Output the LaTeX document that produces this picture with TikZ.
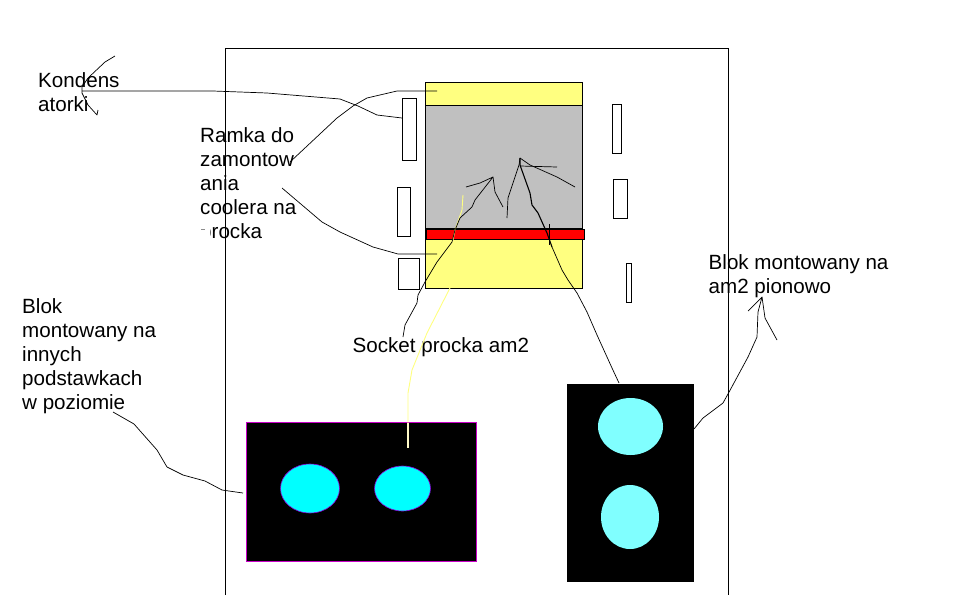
\documentclass[tikz,border=0pt]{standalone}
\usepackage{fontspec}
\setmainfont{Liberation Sans}
\definecolor{softyellow}{RGB}{255,255,128}
\definecolor{paleline}{RGB}{255,250,200}
\definecolor{panelgray}{RGB}{192,192,192}
\definecolor{cyanA}{RGB}{0,255,255}
\definecolor{cyanB}{RGB}{128,255,255}
\definecolor{edgepurple}{RGB}{200,0,200}
\begin{document}
\begin{tikzpicture}[x=1pt,y=-1pt,
  box/.style={draw=black,line width=0.8pt,fill=white},
  sketch/.style={draw=black,line width=0.7pt,line join=round},
  yellowsketch/.style={draw=softyellow,line width=0.9pt,line join=round},
  label/.style={anchor=north west,align=left,font=\fontsize{20.6}{24}\selectfont,inner sep=0pt}]
\useasboundingbox (0,0) rectangle (962,595);
\fill[white] (0,0) rectangle (962,595);
% socket assembly
\draw[box,fill=softyellow] (425.5,82.5) rectangle (582.5,288.5);
\draw[box,fill=panelgray] (425.5,105.5) rectangle (582.5,228.5);
\draw[box,fill=red] (426,229.5) rectangle (584,239.5);
% capacitors
\draw[box] (402.5,98.5) rectangle (416.5,160.5);
\draw[box] (397.5,187.5) rectangle (410.5,236.5);
\draw[box] (398.5,258.5) rectangle (419.5,289.5);
\draw[box] (612.5,104.5) rectangle (621.5,153.5);
\draw[box] (613.5,179.5) rectangle (627.5,218.5);
\draw[box] (626.5,263.5) rectangle (631.5,302.5);
% blocks
\draw[draw=edgepurple,fill=black,line width=0.8pt] (246.5,422.5) rectangle (476.5,561.5);
\fill[black] (567,384) rectangle (694,582);
\draw[draw=edgepurple!70!blue,fill=cyanA,line width=0.6pt] (310,488.5) ellipse [x radius=29.5,y radius=24.5];
\draw[draw=edgepurple!70!blue,fill=cyanA,line width=0.6pt] (402.5,488.5) ellipse [x radius=28,y radius=22.5];
\fill[cyanB] (630.5,426.5) ellipse [x radius=32.5,y radius=28.5];
\fill[cyanB] (630,517) ellipse [x radius=29,y radius=32];
% labels
\node[label] (kond) at (38,72) {Kondens\\atorki};
\node[label] (ramka) at (200,127) {Ramka do\\zamontow\\ania\\coolera na\\procka};
\fill[white] (199,226) rectangle (209.5,243);
\fill[black!45] (201,228.5) rectangle (205,229.5);
\node[label] (socket) at (352.5,337) {Socket procka am2};
\node[label] (blokv) at (708.5,254) {Blok montowany na\\am2 pionowo};
\node[label] (blokh) at (22,298.5) {Blok\\montowany na\\innych\\podstawkach\\w poziomie};
% case
\draw[line width=0.8pt] (225.5,595) -- (225.5,48.5) -- (728.5,48.5) -- (728.5,595);
% yellow leader
\draw[yellowsketch] (408,423) -- (408,393) -- (412,370) -- (427,333) -- (450,288);
\fill[paleline] (407.4,423) rectangle (408.6,448);
\draw[yellowsketch] (463,195) -- (462,210) -- (455,230) -- (453,240);
% capacitor leaders
\draw[sketch] (115,56) -- (105,62) -- (88,78) -- (82,87) -- (82,93) -- (88,105) -- (97,115) -- (98,110);
\draw[sketch] (82,91) -- (213,91) -- (267,93) -- (340,99) -- (358,106) -- (377,115) -- (402,118);
% frame leaders
\draw[sketch] (290,162) -- (337,118) -- (353,106) -- (367,98) -- (397,91) -- (437,91);
\draw[sketch] (282,188) -- (322,222) -- (340,232) -- (373,247) -- (398,254) -- (437,254);
% socket leader
\draw[sketch] (403,337) -- (405,325) -- (417,303) -- (418,295) -- (425,282) -- (437,262) -- (452,242) -- (455,230) -- (460,218) -- (472,207) -- (475,200) -- (493,177) -- (480,183) -- (466,187);
\draw[sketch] (493,177) -- (495,192) -- (503,207);
\draw[sketch] (507,218) -- (508,198) -- (513,183) -- (519,165) -- (520,158) -- (530,165) -- (557,177) -- (575,187);
\draw[sketch] (520,166) -- (557,167);
% block leader
\draw[sketch,line width=1.1pt] (520,158) -- (520,165) -- (530,193) -- (532,205) -- (538,213) -- (547,233) -- (552,247);
\draw[sketch] (549,224) -- (549,245);
\draw[sketch] (552,247) -- (562,270) -- (568,280) -- (577,293) -- (587,312) -- (597,335) -- (612,368) -- (619,383);
% right leader
\draw[sketch] (694,429) -- (703,418) -- (723,403) -- (728,394) -- (748,357) -- (757,337) -- (758,312) -- (762,297) -- (748,311);
\draw[sketch] (762,297) -- (765,318) -- (777,340);
% left leader
\draw[sketch] (113,412) -- (134,424) -- (157,450) -- (167,467) -- (183,475) -- (205,481) -- (222,490) -- (243,493);
\end{tikzpicture}
\end{document}
